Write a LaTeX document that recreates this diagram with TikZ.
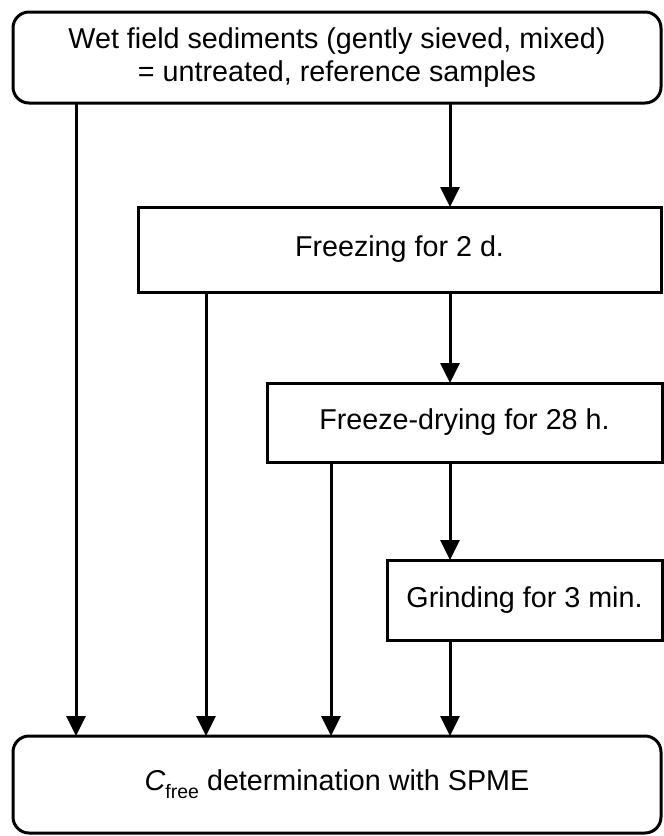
\documentclass[tikz,border=0pt]{standalone}
\usepackage{fontspec}
\setmainfont{Liberation Sans}
\usetikzlibrary{arrows.meta}
\begin{document}
\begin{tikzpicture}[x=1pt,y=-1pt,
  box/.style={draw=black,line width=3pt,inner sep=0pt,outer sep=0pt,fill=white,
    font=\fontsize{28.7}{33}\selectfont,align=center},
  rbox/.style={box,rounded corners=16pt},
  arr/.style={line width=3pt,-{Triangle[width=19pt,length=20pt]}}]
\useasboundingbox (0,0) rectangle (664,836);
\node[rbox,minimum width=648pt,minimum height=91pt] (top) at (337,57.5)
  {Wet field sediments (gently sieved, mixed)\\= untreated, reference samples};
\node[box,minimum width=523pt,minimum height=85pt] (frz) at (399.5,249.5) {Freezing for 2 d.};
\node[box,minimum width=395pt,minimum height=79pt] (dry) at (464.5,422.5) {Freeze-drying for 28 h.};
\node[box,minimum width=275pt,minimum height=80pt] (grd) at (524.5,600) {Grinding for 3 min.};
\node[rbox,minimum width=648pt,minimum height=97pt] (bot) at (337,784.5)
  {{\itshape C}\raisebox{-0.28em}{\fontsize{19.5}{20}\selectfont free} determination with SPME};
\coordinate (xa) at (76,0);
\coordinate (xb) at (206,0);
\coordinate (xc) at (331,0);
\coordinate (xd) at (450,0);
\draw[arr] (top.south -| xa) -- (bot.north -| xa);
\draw[arr] (top.south -| xd) -- (frz.north -| xd);
\draw[arr] (frz.south -| xb) -- (bot.north -| xb);
\draw[arr] (frz.south -| xd) -- (dry.north -| xd);
\draw[arr] (dry.south -| xc) -- (bot.north -| xc);
\draw[arr] (dry.south -| xd) -- (grd.north -| xd);
\draw[arr] (grd.south -| xd) -- (bot.north -| xd);
\end{tikzpicture}
\end{document}
